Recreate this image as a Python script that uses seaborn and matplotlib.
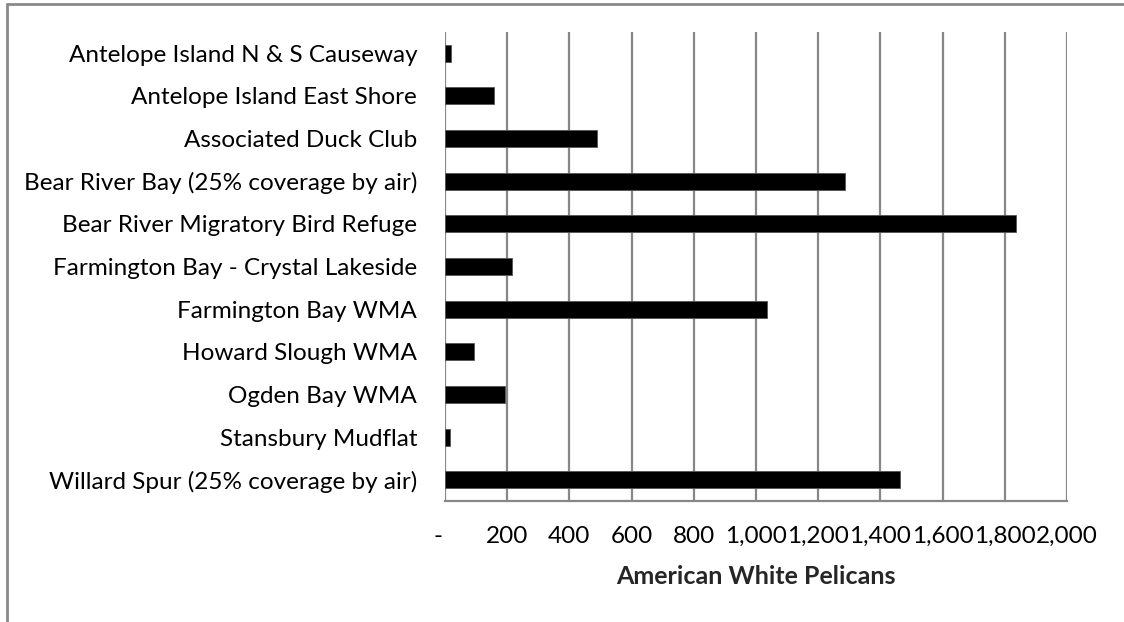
import matplotlib
matplotlib.use("Agg")
import matplotlib.pyplot as plt
from matplotlib.lines import Line2D
import seaborn as sns
import pandas as pd

sites = [
    "Antelope Island N & S Causeway",
    "Antelope Island East Shore",
    "Associated Duck Club",
    "Bear River Bay (25% coverage by air)",
    "Bear River Migratory Bird Refuge",
    "Farmington Bay - Crystal Lakeside",
    "Farmington Bay WMA",
    "Howard Slough WMA",
    "Ogden Bay WMA",
    "Stansbury Mudflat",
    "Willard Spur (25% coverage by air)",
]
pelicans = [20, 158, 490, 1287, 1837, 217, 1034, 93, 194, 15, 1463]
tick_values = [0, 200, 400, 600, 800, 1000, 1200, 1400, 1600, 1800, 2000]
tick_labels = ["-  ", "200", "400", "600", "800", "1,000", "1,200", "1,400",
               "1,600", "1,800", "2,000"]
x_title = "American White Pelicans"

sns.set_style("white")
plt.rcParams["font.family"] = ["Lato", "DejaVu Sans"]

W, H = 1124, 622
fig = plt.figure(figsize=(W / 100, H / 100), dpi=100)
ax = fig.add_axes([445 / W, (H - 501) / H, (1067 - 445) / W, (501 - 32) / H])

df = pd.DataFrame({"site": sites, "count": pelicans})
sns.barplot(data=df, x="count", y="site", orient="h", color="black",
            width=0.4, saturation=1, edgecolor="#555555", linewidth=0.6, ax=ax,
            zorder=3)

grid_col = "#878787"
ax.set_xlim(0, 2000)
ax.set_ylim(len(sites) - 0.5, -0.5)
ax.set_xticks(tick_values)
ax.set_xticklabels(tick_labels)
for v in tick_values:
    ax.axvline(v, color=grid_col, lw=1.6, zorder=1)

for side in ["top", "right"]:
    ax.spines[side].set_visible(False)
ax.spines["left"].set_visible(False)
ax.spines["bottom"].set_color(grid_col)
ax.spines["bottom"].set_linewidth(1.6)

ax.tick_params(axis="x", length=0, pad=18, labelsize=17.5, colors="black")
ax.tick_params(axis="y", length=0, pad=20, labelsize=17.5, colors="black")
ax.set_ylabel("")
ax.set_xlabel(x_title, fontsize=18, fontweight="bold", labelpad=13)

# outer chart frame
fig.add_artist(Line2D([7 / W, 7 / W], [0, 1 - 4 / H], transform=fig.transFigure,
                      color="#8a8a8a", lw=2))
fig.add_artist(Line2D([7 / W, 1], [1 - 4 / H, 1 - 4 / H], transform=fig.transFigure,
                      color="#8a8a8a", lw=2))

fig.savefig("out.png", dpi=100)
